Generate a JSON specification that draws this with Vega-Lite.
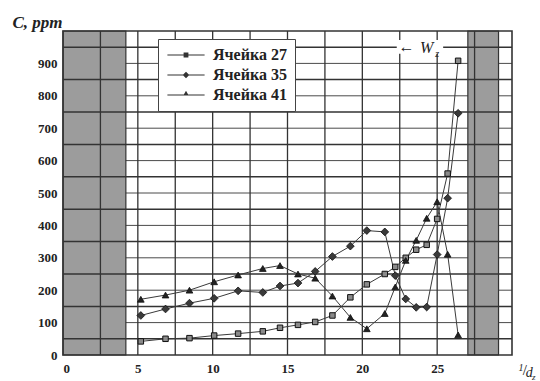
{
  "$schema": "https://vega.github.io/schema/vega-lite/v6.json",
  "width": 449,
  "height": 324,
  "autosize": {"type": "none"},
  "padding": {"left": 63, "top": 31, "right": 28, "bottom": 26},
  "background": "white",
  "config": {
    "view": {"stroke": null},
    "font": "Liberation Serif",
    "axis": {
      "grid": false,
      "ticks": false,
      "domain": false,
      "labelOverlap": false,
      "labelFont": "Liberation Serif",
      "labelFontSize": 13,
      "labelFontWeight": "bold",
      "labelColor": "#222"
    }
  },
  "datasets": {
    "series": [
      {"cell": "Ячейка 27", "inv_d": 5.2, "c": 42},
      {"cell": "Ячейка 27", "inv_d": 6.85, "c": 50},
      {"cell": "Ячейка 27", "inv_d": 8.45, "c": 52},
      {"cell": "Ячейка 27", "inv_d": 10.1, "c": 60},
      {"cell": "Ячейка 27", "inv_d": 11.7, "c": 66},
      {"cell": "Ячейка 27", "inv_d": 13.35, "c": 73},
      {"cell": "Ячейка 27", "inv_d": 14.5, "c": 84},
      {"cell": "Ячейка 27", "inv_d": 15.7, "c": 93},
      {"cell": "Ячейка 27", "inv_d": 16.85, "c": 102},
      {"cell": "Ячейка 27", "inv_d": 18.0, "c": 122},
      {"cell": "Ячейка 27", "inv_d": 19.2, "c": 178},
      {"cell": "Ячейка 27", "inv_d": 20.3, "c": 218},
      {"cell": "Ячейка 27", "inv_d": 21.5, "c": 250},
      {"cell": "Ячейка 27", "inv_d": 22.2, "c": 272},
      {"cell": "Ячейка 27", "inv_d": 22.9, "c": 300},
      {"cell": "Ячейка 27", "inv_d": 23.6, "c": 325},
      {"cell": "Ячейка 27", "inv_d": 24.3, "c": 340},
      {"cell": "Ячейка 27", "inv_d": 25.0, "c": 420},
      {"cell": "Ячейка 27", "inv_d": 25.7, "c": 560},
      {"cell": "Ячейка 27", "inv_d": 26.4, "c": 908},
      {"cell": "Ячейка 35", "inv_d": 5.2, "c": 122},
      {"cell": "Ячейка 35", "inv_d": 6.85, "c": 142},
      {"cell": "Ячейка 35", "inv_d": 8.45, "c": 160},
      {"cell": "Ячейка 35", "inv_d": 10.1, "c": 175},
      {"cell": "Ячейка 35", "inv_d": 11.7, "c": 198},
      {"cell": "Ячейка 35", "inv_d": 13.35, "c": 193},
      {"cell": "Ячейка 35", "inv_d": 14.5, "c": 213},
      {"cell": "Ячейка 35", "inv_d": 15.7, "c": 222},
      {"cell": "Ячейка 35", "inv_d": 16.85, "c": 258},
      {"cell": "Ячейка 35", "inv_d": 18.0, "c": 304},
      {"cell": "Ячейка 35", "inv_d": 19.2, "c": 336},
      {"cell": "Ячейка 35", "inv_d": 20.3, "c": 384},
      {"cell": "Ячейка 35", "inv_d": 21.5, "c": 380},
      {"cell": "Ячейка 35", "inv_d": 22.2, "c": 245},
      {"cell": "Ячейка 35", "inv_d": 22.9, "c": 173},
      {"cell": "Ячейка 35", "inv_d": 23.6, "c": 147},
      {"cell": "Ячейка 35", "inv_d": 24.3, "c": 148},
      {"cell": "Ячейка 35", "inv_d": 25.0, "c": 310},
      {"cell": "Ячейка 35", "inv_d": 25.7, "c": 484},
      {"cell": "Ячейка 35", "inv_d": 26.4, "c": 746},
      {"cell": "Ячейка 41", "inv_d": 5.2, "c": 172},
      {"cell": "Ячейка 41", "inv_d": 6.85, "c": 185},
      {"cell": "Ячейка 41", "inv_d": 8.45, "c": 200},
      {"cell": "Ячейка 41", "inv_d": 10.1, "c": 226},
      {"cell": "Ячейка 41", "inv_d": 11.7, "c": 247},
      {"cell": "Ячейка 41", "inv_d": 13.35, "c": 267},
      {"cell": "Ячейка 41", "inv_d": 14.5, "c": 276},
      {"cell": "Ячейка 41", "inv_d": 15.7, "c": 250},
      {"cell": "Ячейка 41", "inv_d": 16.85, "c": 237},
      {"cell": "Ячейка 41", "inv_d": 18.0, "c": 182},
      {"cell": "Ячейка 41", "inv_d": 19.2, "c": 116},
      {"cell": "Ячейка 41", "inv_d": 20.3, "c": 81},
      {"cell": "Ячейка 41", "inv_d": 21.5, "c": 128},
      {"cell": "Ячейка 41", "inv_d": 22.2, "c": 210},
      {"cell": "Ячейка 41", "inv_d": 22.9, "c": 292},
      {"cell": "Ячейка 41", "inv_d": 23.6, "c": 354},
      {"cell": "Ячейка 41", "inv_d": 24.3, "c": 422},
      {"cell": "Ячейка 41", "inv_d": 25.0, "c": 473},
      {"cell": "Ячейка 41", "inv_d": 25.7, "c": 311},
      {"cell": "Ячейка 41", "inv_d": 26.4, "c": 62}
    ],
    "bands": [
      {"from": 0, "to": 4.2},
      {"from": 27.05, "to": 29.1}
    ],
    "hgrid_minor": [
      {"c": 100}, {"c": 200}, {"c": 300}, {"c": 400}, {"c": 500},
      {"c": 600}, {"c": 700}, {"c": 800}, {"c": 900}
    ],
    "hgrid_major": [
      {"c": 50}, {"c": 150}, {"c": 250}, {"c": 350}, {"c": 450},
      {"c": 550}, {"c": 650}, {"c": 750}, {"c": 850}, {"c": 950}
    ],
    "vgrid": [
      {"v": 2.5}, {"v": 5}, {"v": 7.5}, {"v": 10}, {"v": 12.5}, {"v": 15},
      {"v": 17.5}, {"v": 20}, {"v": 22.5}, {"v": 25}, {"v": 27.5}
    ]
  },
  "layer": [
    {
      "data": {"name": "hgrid_minor"},
      "mark": {"type": "rule", "stroke": "#4a4a4a", "strokeWidth": 1},
      "encoding": {
        "y": {
          "field": "c",
          "type": "quantitative",
          "scale": {"domain": [0, 1000], "nice": false, "zero": false},
          "axis": {
            "values": [0, 100, 200, 300, 400, 500, 600, 700, 800, 900],
            "tickCount": 20,
            "labelOverlap": false,
            "labelPadding": 6,
            "title": "C, ppm",
            "titleAngle": 0,
            "titleAlign": "left",
            "titleBaseline": "alphabetic",
            "titleX": -51,
            "titleY": -4,
            "titleFont": "Liberation Serif",
            "titleFontStyle": "italic",
            "titleFontWeight": "bold",
            "titleFontSize": 17,
            "titleColor": "#222"
          }
        }
      }
    },
    {
      "data": {"name": "bands"},
      "mark": {"type": "rect", "fill": "#9c9c9c", "stroke": "#333", "strokeWidth": 1.2},
      "encoding": {
        "x": {
          "field": "from",
          "type": "quantitative",
          "scale": {"domain": [0, 30], "nice": false, "zero": false},
          "axis": {"values": [0, 5, 10, 15, 20, 25], "tickCount": 20, "labelOverlap": false, "labelPadding": 7, "title": null}
        },
        "x2": {"field": "to"},
        "y": {"datum": 0},
        "y2": {"datum": 1000}
      }
    },
    {
      "data": {"name": "hgrid_major"},
      "mark": {"type": "rule", "stroke": "#333", "strokeWidth": 1.5},
      "encoding": {"y": {"field": "c", "type": "quantitative"}}
    },
    {
      "data": {"name": "vgrid"},
      "mark": {"type": "rule", "stroke": "#333", "strokeWidth": 1.3},
      "encoding": {"x": {"field": "v", "type": "quantitative"}}
    },
    {
      "data": {"values": [{}]},
      "mark": {"type": "rect", "fill": null, "stroke": "#333", "strokeWidth": 1.6},
      "encoding": {
        "x": {"datum": 0},
        "x2": {"datum": 30},
        "y": {"datum": 0},
        "y2": {"datum": 1000}
      }
    },
    {
      "data": {"values": [{}]},
      "mark": {"type": "rect", "fill": "white"},
      "encoding": {
        "x": {"datum": 22.3},
        "x2": {"datum": 25.4},
        "y": {"datum": 930},
        "y2": {"datum": 972}
      }
    },
    {
      "data": {"values": [{}]},
      "mark": {"type": "text", "text": "←", "fontSize": 16, "color": "#222", "align": "center", "baseline": "middle"},
      "encoding": {"x": {"datum": 22.95}, "y": {"datum": 951}}
    },
    {
      "data": {"values": [{}]},
      "mark": {"type": "text", "text": "W", "fontSize": 16, "fontStyle": "italic", "color": "#222", "align": "center", "baseline": "middle"},
      "encoding": {"x": {"datum": 24.3}, "y": {"datum": 948}}
    },
    {
      "data": {"values": [{}]},
      "mark": {"type": "text", "text": "z", "fontSize": 10, "fontStyle": "italic", "color": "#222", "align": "center", "baseline": "middle"},
      "encoding": {"x": {"datum": 25.0}, "y": {"datum": 928}}
    },
    {
      "data": {"name": "series"},
      "mark": {"type": "line", "stroke": "#3a3a3a", "strokeWidth": 1},
      "encoding": {
        "x": {"field": "inv_d", "type": "quantitative"},
        "y": {"field": "c", "type": "quantitative"},
        "detail": {"field": "cell"}
      }
    },
    {
      "data": {"name": "series"},
      "transform": [{"filter": "datum.cell === 'Ячейка 27'"}],
      "mark": {"type": "point", "shape": "square", "filled": true, "fill": "#8a8a8a", "stroke": "#111", "strokeWidth": 1, "opacity": 1, "size": 30},
      "encoding": {
        "x": {"field": "inv_d", "type": "quantitative"},
        "y": {"field": "c", "type": "quantitative"}
      }
    },
    {
      "data": {"name": "series"},
      "transform": [{"filter": "datum.cell === 'Ячейка 35'"}],
      "mark": {"type": "point", "shape": "diamond", "filled": true, "fill": "#3a3a3a", "stroke": "#111", "strokeWidth": 0.8, "opacity": 1, "size": 60},
      "encoding": {
        "x": {"field": "inv_d", "type": "quantitative"},
        "y": {"field": "c", "type": "quantitative"}
      }
    },
    {
      "data": {"name": "series"},
      "transform": [{"filter": "datum.cell === 'Ячейка 41'"}],
      "mark": {"type": "point", "shape": "triangle-up", "filled": true, "fill": "#222", "stroke": "#111", "strokeWidth": 0.8, "opacity": 1, "size": 45},
      "encoding": {
        "x": {"field": "inv_d", "type": "quantitative"},
        "y": {"field": "c", "type": "quantitative"}
      }
    },
    {
      "data": {"name": "series"},
      "transform": [{"filter": "false"}],
      "mark": {"type": "point", "filled": true, "fill": "#333", "opacity": 1},
      "encoding": {
        "x": {"field": "inv_d", "type": "quantitative"},
        "y": {"field": "c", "type": "quantitative"},
        "shape": {
          "field": "cell",
          "type": "nominal",
          "scale": {
            "domain": ["Ячейка 27", "Ячейка 35", "Ячейка 41"],
            "range": [
              "M-6.2,-0.17H6.2V0.17H-6.2ZM-0.8,-0.8H0.8V0.8H-0.8Z",
              "M-6.2,-0.17H6.2V0.17H-6.2ZM0,-1.1L1.1,0L0,1.1L-1.1,0Z",
              "M-6.2,-0.17H6.2V0.17H-6.2ZM0,-1.4L0.9,0.17H-0.9Z"
            ]
          },
          "legend": {
            "title": null,
            "orient": "none",
            "legendX": 95,
            "legendY": 8,
            "padding": 8,
            "fillColor": "white",
            "strokeColor": "#444",
            "labelFont": "Liberation Serif",
            "labelFontSize": 16,
            "labelFontWeight": "bold",
            "labelColor": "#222",
            "labelOffset": 19,
            "symbolOffset": 12,
            "symbolSize": 36,
            "symbolFillColor": "#333",
            "symbolStrokeWidth": 0,
            "rowPadding": 4
          }
        }
      }
    },
    {
      "data": {"values": [{}]},
      "mark": {"type": "text", "text": "1", "fontSize": 10, "fontStyle": "italic", "color": "#222", "align": "center", "baseline": "middle"},
      "encoding": {"x": {"datum": 30.6}, "y": {"datum": -41}}
    },
    {
      "data": {"values": [{}]},
      "mark": {"type": "text", "text": "/", "fontSize": 15, "color": "#222", "align": "center", "baseline": "middle"},
      "encoding": {"x": {"datum": 30.85}, "y": {"datum": -46}}
    },
    {
      "data": {"values": [{}]},
      "mark": {"type": "text", "text": "d", "fontSize": 14, "fontStyle": "italic", "color": "#222", "align": "center", "baseline": "middle"},
      "encoding": {"x": {"datum": 31.15}, "y": {"datum": -57}}
    },
    {
      "data": {"values": [{}]},
      "mark": {"type": "text", "text": "z", "fontSize": 9, "fontStyle": "italic", "color": "#222", "align": "center", "baseline": "middle"},
      "encoding": {"x": {"datum": 31.45}, "y": {"datum": -68}}
    }
  ]
}
